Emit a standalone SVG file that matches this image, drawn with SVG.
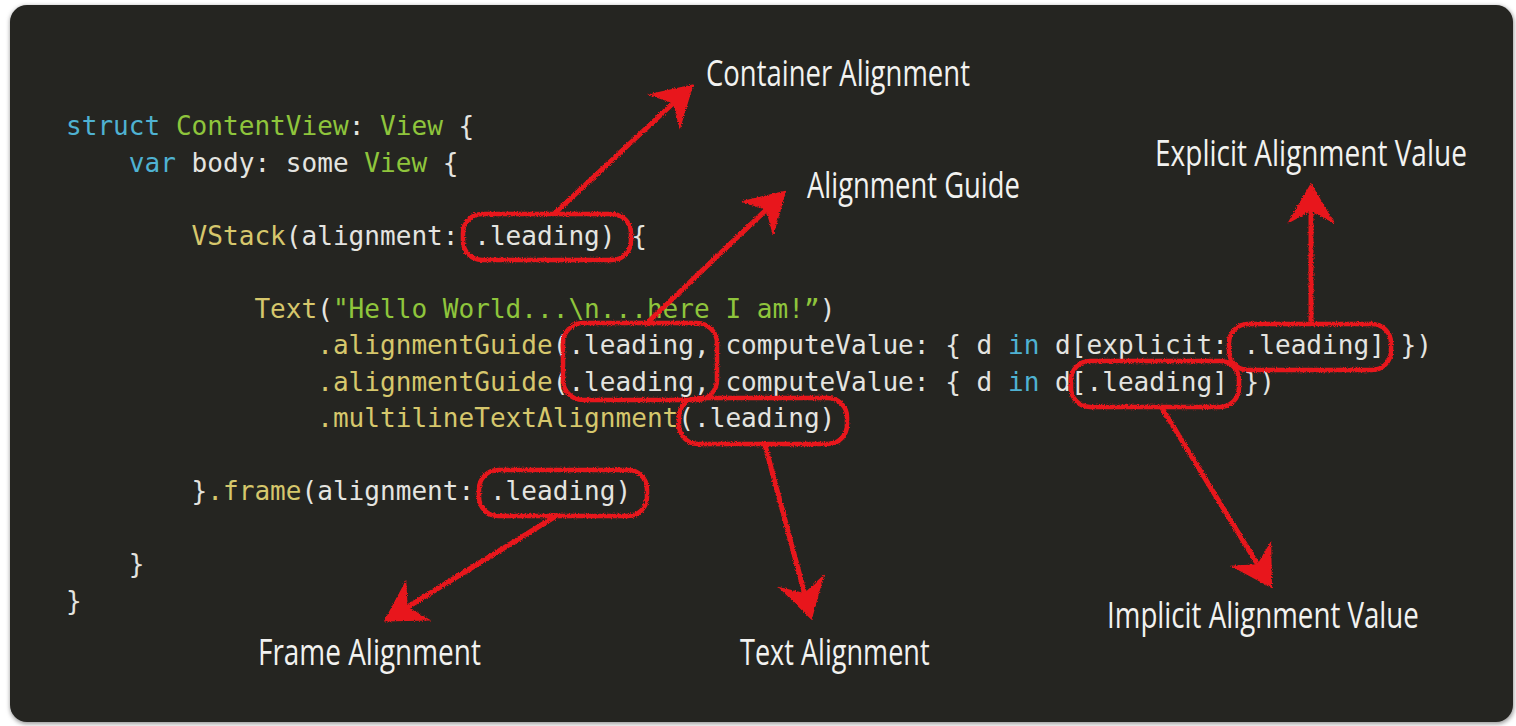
<svg xmlns="http://www.w3.org/2000/svg" width="1516" height="726" viewBox="0 0 1516 726">
<style>
.code{font-family:"DejaVu Sans Mono","Liberation Mono",monospace;font-size:26.08px;fill:#e4e4e0}
.k{fill:#4fb2d2}
.t{fill:#8fc53c}
.f{fill:#d6c76c}
.s{fill:#8fc53c}
.lbl{font-family:"Open Sans","Liberation Sans",sans-serif;font-size:36px;fill:#f2f2f0}
.oval{fill:none;stroke:#e8181b;stroke-width:4.5}
.arrow{fill:none;stroke:#e8181b;stroke-width:5;stroke-linecap:round}
</style>
<defs>
<filter id="chalk" x="-5%" y="-5%" width="110%" height="110%">
<feTurbulence type="fractalNoise" baseFrequency="0.9" numOctaves="2" seed="3" result="n"/>
<feDisplacementMap in="SourceGraphic" in2="n" scale="3.5" xChannelSelector="R" yChannelSelector="G"/>
</filter>
<filter id="shadow" x="-2%" y="-2%" width="104%" height="104%">
<feGaussianBlur stdDeviation="2"/>
</filter>
<marker id="head" viewBox="-44 -26 48 52" markerWidth="48" markerHeight="52" refX="-26" refY="0" orient="auto" markerUnits="userSpaceOnUse">
<path d="M0,0 L-41,-24 L-28,0 L-41,24 Z" fill="#e8181b"/>
</marker>
</defs>
<rect x="0" y="0" width="1516" height="726" fill="#ffffff"/>
<rect x="10" y="6" width="1504" height="718" rx="17" fill="#9a9a9a" filter="url(#shadow)"/>
<rect x="10" y="5" width="1503" height="717" rx="17" fill="#252521"/>

<g id="code" class="code">
<text x="66" y="135"><tspan class="k">struct</tspan> <tspan class="t">ContentView</tspan>: <tspan class="t">View</tspan> {</text>
<text x="128.8" y="171.5"><tspan class="k">var</tspan> body: some <tspan class="t">View</tspan> {</text>
<text x="191.6" y="244.5"><tspan class="f">VStack</tspan>(alignment: .leading) {</text>
<text x="254.4" y="317.5"><tspan class="f">Text</tspan>(<tspan class="s">"Hello World...\n...here I am!”</tspan>)</text>
<text x="317.2" y="354"><tspan class="f">.alignmentGuide</tspan>(.leading, computeValue: { d <tspan class="k">in</tspan> d[explicit: .leading] })</text>
<text x="317.2" y="390.5"><tspan class="f">.alignmentGuide</tspan>(.leading, computeValue: { d <tspan class="k">in</tspan> d[.leading] })</text>
<text x="317.2" y="427"><tspan class="f">.multilineTextAlignment</tspan>(.leading)</text>
<text x="191.6" y="500">}<tspan class="f">.frame</tspan>(alignment: .leading)</text>
<text x="128.8" y="573">}</text>
<text x="66" y="609.5">}</text>
</g>

<g id="highlights" filter="url(#chalk)">
<rect id="hl-container" class="oval" x="463" y="214" width="168" height="46" rx="19"/>
<rect id="hl-guide" class="oval" x="563" y="323" width="154" height="77" rx="20"/>
<rect id="hl-text" class="oval" x="679" y="398" width="168" height="46" rx="19"/>
<rect id="hl-explicit" class="oval" x="1229" y="324" width="162" height="46" rx="19"/>
<rect id="hl-implicit" class="oval" x="1071" y="361" width="168" height="46" rx="19"/>
<rect id="hl-frame" class="oval" x="479" y="470" width="168" height="46" rx="19"/>
</g>

<g id="connectors" filter="url(#chalk)">
<path id="c-container" class="arrow" d="M555,213 L674.5,102" marker-end="url(#head)"/>
<path id="c-guide" class="arrow" d="M646,324 L767.5,208.5" marker-end="url(#head)"/>
<path id="c-explicit" class="arrow" d="M1311,323 L1311,209" marker-end="url(#head)"/>
<path id="c-implicit" class="arrow" d="M1162,408 L1258.5,566" marker-end="url(#head)"/>
<path id="c-text" class="arrow" d="M765,445 L805,595" marker-end="url(#head)"/>
<path id="c-frame" class="arrow" d="M556,516 L406,608" marker-end="url(#head)"/>
</g>

<g id="label-container" transform="translate(706,86) scale(0.774,1)"><text class="lbl" x="0" y="0" textLength="341" lengthAdjust="spacingAndGlyphs">Container Alignment</text></g>
<g id="label-guide" transform="translate(807,198) scale(0.774,1)"><text class="lbl" x="0" y="0" textLength="275" lengthAdjust="spacingAndGlyphs">Alignment Guide</text></g>
<g id="label-explicit" transform="translate(1155,166) scale(0.774,1)"><text class="lbl" x="0" y="0" textLength="403" lengthAdjust="spacingAndGlyphs">Explicit Alignment Value</text></g>
<g id="label-implicit" transform="translate(1107,628) scale(0.774,1)"><text class="lbl" x="0" y="0" textLength="403" lengthAdjust="spacingAndGlyphs">Implicit Alignment Value</text></g>
<g id="label-frame" transform="translate(258,665) scale(0.774,1)"><text class="lbl" x="0" y="0" textLength="288" lengthAdjust="spacingAndGlyphs">Frame Alignment</text></g>
<g id="label-text" transform="translate(740,665) scale(0.774,1)"><text class="lbl" x="0" y="0" textLength="245" lengthAdjust="spacingAndGlyphs">Text Alignment</text></g>
</svg>
